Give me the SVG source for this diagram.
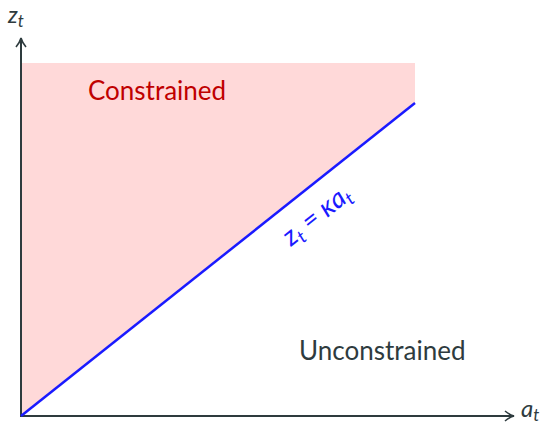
<svg xmlns="http://www.w3.org/2000/svg" width="548" height="427" viewBox="0 0 548 427">
<style>
.ax{stroke:#2e3b3e;stroke-width:2;fill:none}
.lbl{font-family:Lato,"Open Sans",sans-serif;font-style:italic;fill:#2e3b3e}
.t{font-family:Lato,"Open Sans",sans-serif}
</style>
<defs>
<marker id="arr" viewBox="0 0 12 12" refX="10" refY="6" markerWidth="12" markerHeight="12" markerUnits="userSpaceOnUse" orient="auto">
<path d="M1,1 Q6,5 10,6 Q6,7 1,11" fill="none" stroke="#2e3b3e" stroke-width="1.6"/>
</marker>
</defs>
<g id="constrained-region">
<polygon points="21,63 415,63 415,103 21,416" fill="#ffd9d9"/>
<text class="t" x="88" y="100" font-size="26" fill="#c00000">Constrained</text>
</g>
<g id="unconstrained-region">
<text class="t" x="299" y="360" font-size="26" fill="#2e3b3e">Unconstrained</text>
</g>
<g id="connectors">
<line class="ax" x1="21" y1="417" x2="21" y2="38" marker-end="url(#arr)"/>
<line class="ax" x1="20" y1="416" x2="514" y2="416" marker-end="url(#arr)"/>
<line x1="21" y1="416" x2="415" y2="103" stroke="#1a1aff" stroke-width="2.5"/>
</g>
<g id="labels">
<text class="lbl" x="8" y="23" font-size="23">z<tspan font-size="17" dy="4">t</tspan></text>
<text class="lbl" x="521" y="417" font-size="24">a<tspan font-size="17" dy="4">t</tspan></text>
<text class="lbl" transform="translate(322,222) rotate(-38.5)" text-anchor="middle" font-size="27" style="fill:#1a1aff">z<tspan font-size="18" dy="5">t</tspan><tspan dy="-5"> = κa</tspan><tspan font-size="18" dy="5">t</tspan></text>
</g>
</svg>
